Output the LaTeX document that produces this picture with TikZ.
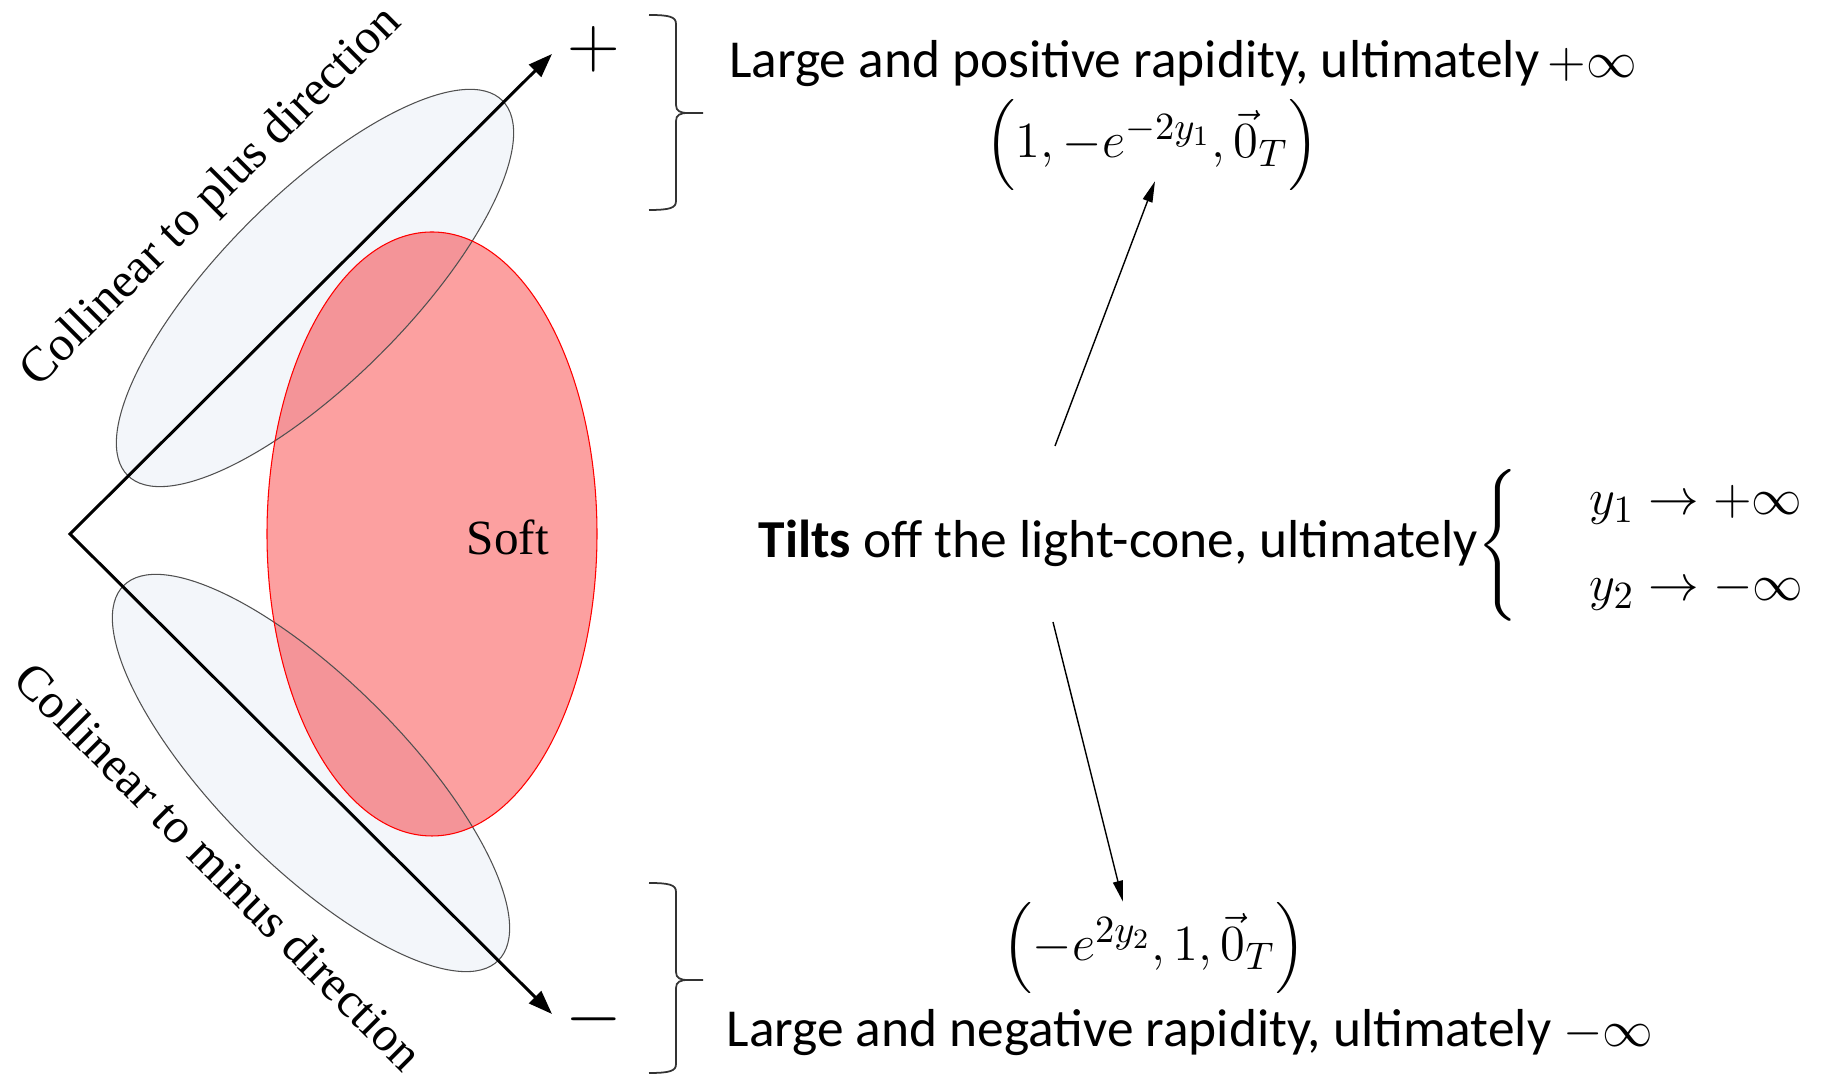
\documentclass[tikz,border=0pt]{standalone}
\usepackage{amsmath}
\usepackage{fontspec}
\setmainfont{Carlito}
\newfontfamily\timesfont{Liberation Serif}
\usepackage{tikz}
\usetikzlibrary{arrows.meta}
\definecolor{softred}{RGB}{252,160,160}
\definecolor{overred}{RGB}{244,148,152}
\definecolor{colfill}{RGB}{243,246,250}
\definecolor{coledge}{RGB}{80,80,80}

\begin{document}
\begin{tikzpicture}[
    cone/.style={line width=0.85pt,
                 {Triangle[length=0.24cm,width=0.17cm]}-{Triangle[length=0.24cm,width=0.17cm]}},
    pointer/.style={line width=0.4pt, -{Triangle[length=0.21cm,width=0.1cm]}},
    colreg/.style={fill=colfill},
    colline/.style={draw=coledge, line width=0.3pt},
    softreg/.style={fill=softred},
    bracepath/.style={draw=black!80, line width=0.5pt},
    lbl/.style={font=\fontsize{15.2}{18}\selectfont, inner sep=0pt},
    sign/.style={font=\fontsize{21}{24}\selectfont, inner sep=0pt},
    serif/.style={font=\timesfont\fontsize{14}{17}\selectfont, inner sep=0pt}
  ]
  \useasboundingbox (-0.70,-5.44) rectangle (17.54,5.34);
  \def\ra{2.65}
  \def\rb{0.93}
  \coordinate (vtx) at (0,0);
  \coordinate (plustip) at (4.82,4.80);
  \coordinate (minustip) at (4.82,-4.80);
  \coordinate (cplus) at (2.45,2.46);
  \coordinate (cminus) at (2.41,-2.39);
  \coordinate (sc) at (3.62,0);
  % collinear regions, soft region and their overlaps
  \fill[colreg, rotate around={45:(cplus)}] (cplus) ellipse [x radius=\ra, y radius=\rb];
  \fill[colreg, rotate around={-45:(cminus)}] (cminus) ellipse [x radius=\ra, y radius=\rb];
  \fill[softreg] (sc) ellipse [x radius=1.65, y radius=3.02];
  \begin{scope}
    \clip[rotate around={45:(cplus)}] (cplus) ellipse [x radius=\ra, y radius=\rb];
    \fill[overred] (sc) ellipse [x radius=1.65, y radius=3.02];
  \end{scope}
  \begin{scope}
    \clip[rotate around={-45:(cminus)}] (cminus) ellipse [x radius=\ra, y radius=\rb];
    \fill[overred] (sc) ellipse [x radius=1.65, y radius=3.02];
  \end{scope}
  \draw[colline, rotate around={45:(cplus)}] (cplus) ellipse [x radius=\ra, y radius=\rb];
  \draw[colline, rotate around={-45:(cminus)}] (cminus) ellipse [x radius=\ra, y radius=\rb];
  \draw[red, line width=0.3pt] (sc) ellipse [x radius=1.65, y radius=3.02];
  % light-cone
  \draw[cone] (plustip) -- (vtx) -- (minustip);
  \node[sign] (plus) at (5.24,4.85) {$+$};
  \node[sign] (minus) at (5.24,-4.85) {$-$};
  \node[serif] (soft) at (4.38,-0.03) {Soft};
  \node[serif, rotate=45] (colp) at (1.42,3.36) {Collinear to plus direction};
  \node[serif, rotate=-45] (colm) at (1.49,-3.32) {Collinear to minus direction};
  % braces
  \foreach \yt/\ym/\yb in {5.19/4.21/3.24, -3.49/-4.46/-5.39}
    \draw[bracepath] (5.79,\yt) .. controls (6.0,\yt) and (6.06,\yt-0.02) .. (6.06,\yt-0.09)
      -- (6.06,\ym+0.08) .. controls (6.06,\ym+0.02) and (6.1,\ym) .. (6.18,\ym) -- (6.33,\ym)
      (6.18,\ym) .. controls (6.1,\ym) and (6.06,\ym-0.02) .. (6.06,\ym-0.08)
      -- (6.06,\yb+0.09) .. controls (6.06,\yb+0.02) and (6.0,\yb) .. (5.79,\yb);
  % rapidity texts
  \node[lbl] (posrap) at (11.13,4.70) {Large and positive rapidity, ultimately$\,+\infty$};
  \node[lbl] (posvec) at (10.82,3.89) {$\left(1,-e^{-2y_1},\vec{0}_T\right)$};
  \node[lbl, anchor=west] (tilts) at (6.88,-0.11)
    {\textbf{Tilts} off the light-cone, ultimately$\left\{\begin{array}{l}
       \quad y_1\to+\infty\\[6.5pt]
       \quad y_2\to-\infty
     \end{array}\right.$};
  \node[lbl] (negvec) at (10.84,-4.14) {$\left(-e^{2y_2},1,\vec{0}_T\right)$};
  \node[lbl] (negrap) at (11.2,-4.99) {Large and negative rapidity, ultimately~$-\infty$};
  \coordinate (tup) at (9.85,0.88);
  \coordinate (tdn) at (9.83,-0.88);
  \draw[pointer] (tup) -- ([xshift=0.03cm,yshift=0.1cm]posvec.south);
  \draw[pointer] (tdn) -- ([xshift=-0.31cm]negvec.north);
\end{tikzpicture}
\end{document}
